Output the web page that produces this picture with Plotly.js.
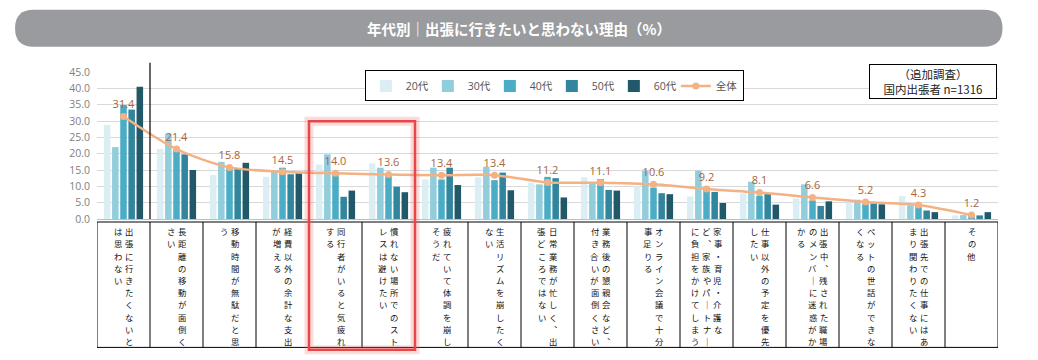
<!DOCTYPE html>
<html><head><meta charset="utf-8">
<script src="https://cdn.plot.ly/plotly-3.0.1.min.js"></script>
<style>html,body{margin:0;padding:0;background:#fff;}#chart{width:1038px;height:360px;}</style>
</head><body><div id="chart"></div>
<script>
const categories = [
  "出張に行きたくないと/は思わない",
  "長距離の移動が面倒く/さい",
  "移動時間が無駄だと思/う",
  "経費以外の余計な支出/が増える",
  "同行者がいると気疲れ/する",
  "慣れない場所でのスト/レスは避けたい",
  "疲れていて体調を崩し/そうだ",
  "生活リズムを崩したく/ない",
  "日常業務が忙しく、出/張どころではない",
  "業務後の懇親会など、/付き合いが面倒くさい",
  "オンライン会議で十分/事足りる",
  "家事・育児・介護な/ど、家族やパートナー/に負担をかけてしまう",
  "仕事以外の予定を優先/したい",
  "出張中、残された職場/のメンバーに迷惑がか/かる",
  "ペットの世話ができな/くなる",
  "出張先での仕事にはあ/まり関わりたくない",
  "その他"
];
const seriesNames = ["20代", "30代", "40代", "50代", "60代"];
const v20 = [28.8, 21.4, 13.5, 12.9, 16.7, 17.0, 12.1, 12.7, 11.1, 12.8, 10.0, 6.9, 7.8, 6.3, 5.0, 7.1, 1.1];
const v30 = [22.0, 26.1, 17.5, 14.5, 19.8, 15.7, 15.7, 16.0, 10.6, 10.9, 14.8, 14.8, 11.4, 10.6, 5.9, 4.2, 1.2];
const v40 = [34.9, 21.6, 16.0, 15.7, 14.2, 13.8, 12.1, 11.9, 12.9, 12.2, 9.6, 8.9, 7.1, 5.7, 4.8, 4.0, 1.4];
const v50 = [33.5, 19.8, 15.6, 13.7, 6.8, 9.9, 15.7, 14.2, 12.5, 8.9, 7.9, 8.3, 7.8, 4.0, 4.8, 2.6, 1.1];
const v60 = [40.5, 15.0, 17.2, 14.0, 8.7, 8.2, 10.4, 8.8, 6.6, 8.7, 7.6, 4.9, 4.4, 5.4, 4.5, 2.1, 2.1];
const totalName = "全体";
const total = [31.4, 21.4, 15.8, 14.5, 14.0, 13.6, 13.4, 13.4, 11.2, 11.1, 10.6, 9.2, 8.1, 6.6, 5.2, 4.3, 1.2];
const yTicks = [0, 5, 10, 15, 20, 25, 30, 35, 40, 45];
const chartTitle = "年代別｜出張に行きたいと思わない理由（%）";
const noteText = "（追加調査）<br>国内出張者 n=1316";

const colors = ["#daeef3", "#92cddc", "#4bacc6", "#31859c", "#215968"];
const values = [v20, v30, v40, v50, v60];
const xIdx = categories.map((c, i) => i);

const traces = values.map((v, k) => ({
  type: "bar", name: seriesNames[k], x: xIdx, y: v, legendwidth: 17,
  marker: {color: colors[k]}, hoverinfo: "skip"
}));
traces.push({
  type: "scatter", mode: "lines+markers+text", name: totalName, x: xIdx, y: total, legendwidth: 22,
  line: {color: "#f4b183", width: 2.5, shape: "spline", smoothing: 0.8},
  marker: {color: "#f4b183", size: 7},
  text: total.map(v => v.toFixed(1)), textposition: "top center",
  textfont: {family: "Open Sans, Noto Sans CJK JP", size: 11, color: "#a8643a"},
  cliponaxis: false, hoverinfo: "skip"
});

// pixel geometry of the plot area
const W = 1038, H = 360;
const L = 97, R = 998.5, T = 72.3, B = 219.3;
const catPx = (R - L) / categories.length;
const px = x => (x - L) / (R - L);
const py = y => (B - y) / (B - T);

const shapes = [];
const annotations = [];

// title bar (rounded)
(function () {
  const x0 = 15, x1 = 1003, y0 = 10, y1 = 47, r = 18.5;
  const X = v => px(v), Y = v => py(v);
  const path = `M ${X(x0 + r)},${Y(y0)} L ${X(x1 - r)},${Y(y0)} Q ${X(x1)},${Y(y0)} ${X(x1)},${Y(y0 + r)} ` +
    `Q ${X(x1)},${Y(y1)} ${X(x1 - r)},${Y(y1)} L ${X(x0 + r)},${Y(y1)} Q ${X(x0)},${Y(y1)} ${X(x0)},${Y(y0 + r)} ` +
    `Q ${X(x0)},${Y(y0)} ${X(x0 + r)},${Y(y0)} Z`;
  shapes.push({type: "path", xref: "paper", yref: "paper", path: path, fillcolor: "#9a9b9e", line: {width: 0}, layer: "below"});
  annotations.push({xref: "paper", yref: "paper", x: px(519), y: py(29), text: chartTitle, showarrow: false,
    font: {family: "Noto Sans CJK JP", size: 14.5, color: "#ffffff", weight: 700}, xanchor: "center", yanchor: "middle"});
})();

// separator after first category
shapes.push({type: "line", xref: "x", yref: "paper", x0: 0.5, x1: 0.5, y0: 0, y1: py(63), line: {color: "#000", width: 1.2}});

// table under the chart
const tTop = py(222.3), tBot = py(347.7);
shapes.push({type: "rect", xref: "x", yref: "paper", x0: -0.5, x1: categories.length - 0.5, y0: tBot, y1: tTop, line: {color: "#000", width: 1}});
for (let i = 1; i < categories.length; i++) {
  shapes.push({type: "line", xref: "x", yref: "paper", x0: i - 0.5, x1: i - 0.5, y0: tBot, y1: tTop, line: {color: "#000", width: 1}});
}

// vertical (tategaki) labels: one text per character, columns right to left
const vmap = {"、": "︑", "ー": "｜"};
const colGap = 11.4, rowGap = 12.2, firstRow = 231.5;
categories.forEach((c, i) => {
  const cols = c.split("/").map(s => Array.from(s).map(ch => vmap[ch] || ch));
  const nc = cols.length;
  cols.forEach((col, k) => {
    const dx = ((nc - 1) / 2 - k) * colGap / catPx;
    col.forEach((ch, r) => {
      annotations.push({xref: "x", yref: "paper", x: i + dx, y: py(firstRow + r * rowGap), text: ch,
        showarrow: false, xanchor: "center", yanchor: "middle", borderpad: 0, borderwidth: 0,
        font: {family: "Noto Sans CJK JP", size: 8.4, color: "#111"}});
    });
  });
});

// red highlight
shapes.push({type: "rect", xref: "x", yref: "paper", x0: 3.5, x1: 5.5, y0: py(350), y1: py(121.5),
  line: {color: "rgba(240,90,90,0.22)", width: 9}});
shapes.push({type: "rect", xref: "x", yref: "paper", x0: 3.5, x1: 5.5, y0: py(350), y1: py(121.5),
  line: {color: "#e8474a", width: 2.5}});

// note box
annotations.push({xref: "paper", yref: "paper", x: px(933), y: py(64), xanchor: "center", yanchor: "top",
  text: noteText, showarrow: false, align: "center", width: 124, height: 31,
  bordercolor: "#000", borderwidth: 1, bgcolor: "#fff",
  font: {family: "Noto Sans CJK JP", size: 11.5, color: "#222"}});

const layout = {
  width: W, height: H,
  margin: {l: L, r: W - R, t: T, b: H - B, pad: 0},
  paper_bgcolor: "#fff", plot_bgcolor: "#fff",
  barmode: "group", bargap: 0.23, bargroupgap: 0.2,
  showlegend: true,
  legend: {orientation: "h", x: px(365), y: py(70.7), xanchor: "left", yanchor: "top",
    bordercolor: "#000", borderwidth: 1, bgcolor: "#fff", entrywidthmode: "pixels",
    font: {family: "Open Sans, Noto Sans CJK JP", size: 10.5, color: "#555"}, itemwidth: 30, traceorder: "normal"},
  xaxis: {range: [-0.5, categories.length - 0.5], showticklabels: false, showgrid: false, zeroline: false,
    showline: false, ticks: "", fixedrange: true},
  yaxis: {range: [0, 45], tickvals: yTicks, ticktext: yTicks.map(v => v.toFixed(1)), showgrid: true,
    gridcolor: "#d9d9d9", gridwidth: 1, zeroline: true, zerolinecolor: "#bfbfbf", showline: false, ticks: "",
    ticklabelstandoff: 6,
    tickfont: {family: "Open Sans", size: 10.5, color: "#7f7f7f"}, fixedrange: true},
  shapes: shapes, annotations: annotations,
  font: {family: "Noto Sans CJK JP"}
};
Plotly.newPlot("chart", traces, layout, {staticPlot: true, displayModeBar: false});
</script></body></html>
